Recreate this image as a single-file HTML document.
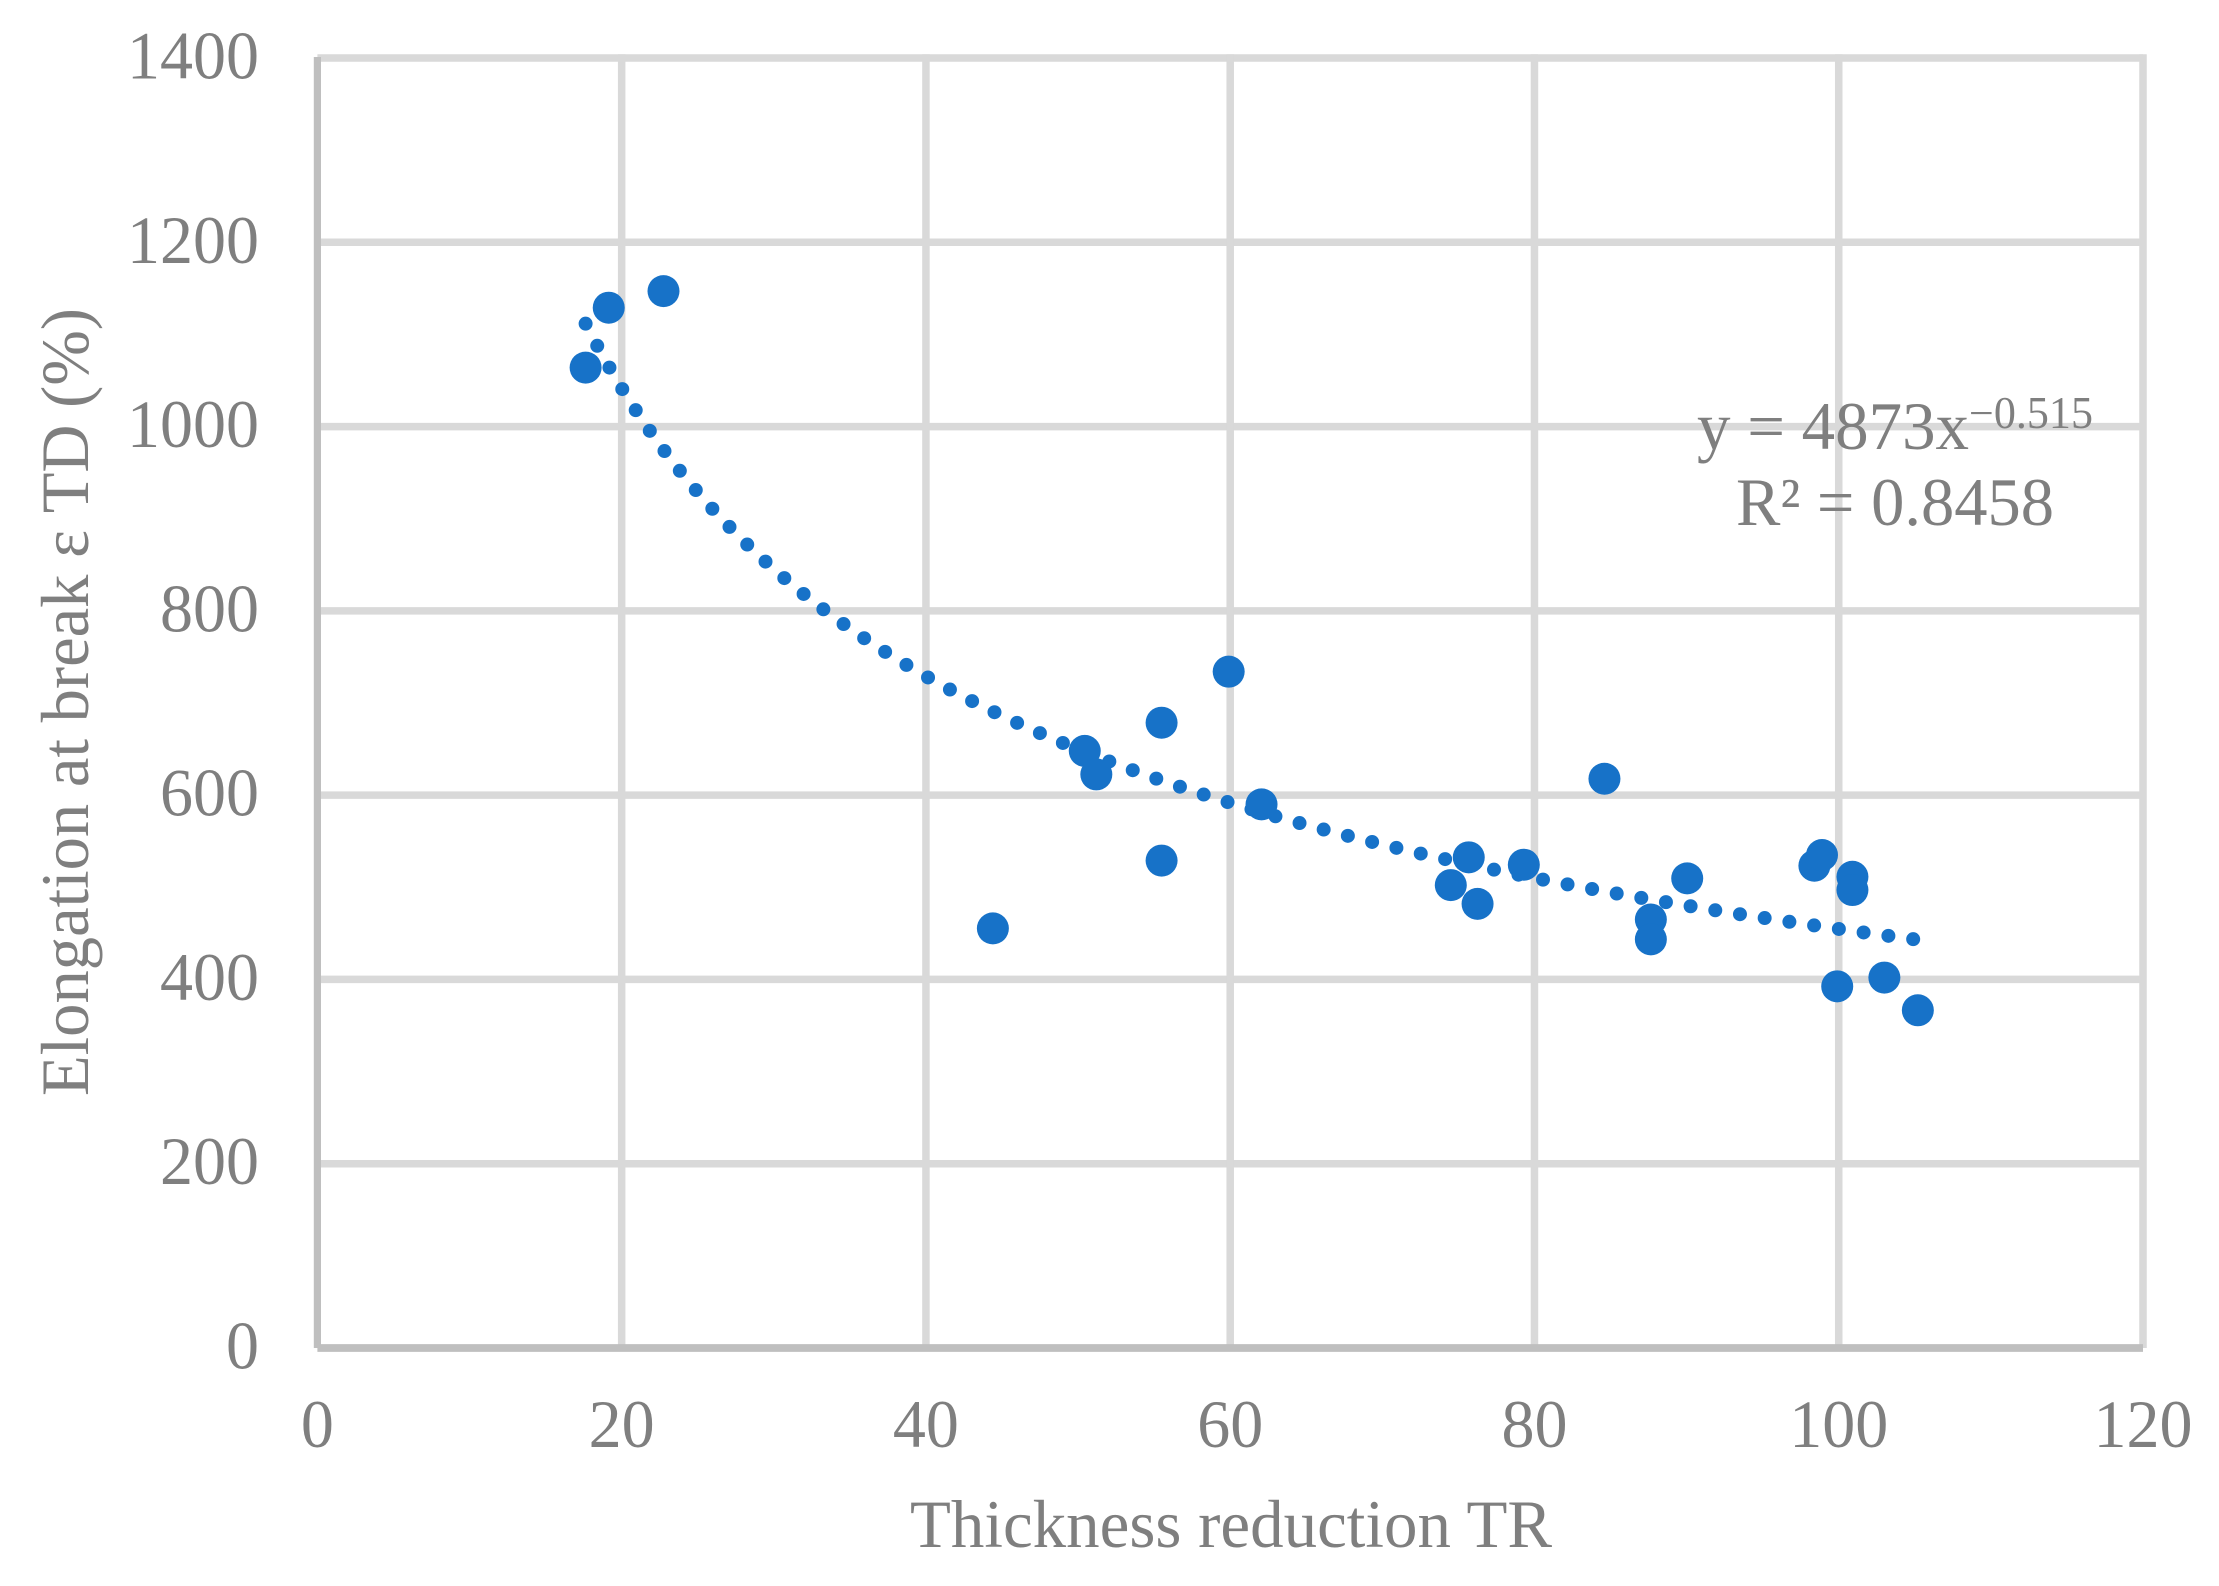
<!DOCTYPE html>
<html lang="en">
<head>
<meta charset="utf-8">
<title>Elongation at break vs thickness reduction</title>
<style>
html,body{margin:0;padding:0;background:#fff;width:2219px;height:1586px;overflow:hidden}
svg{display:block}
text{font-family:"Liberation Serif",serif;fill:#7f7f7f}
</style>
</head>
<body>
<svg id="chart" xmlns="http://www.w3.org/2000/svg" width="2219" height="1586" viewBox="0 0 2219 1586">
  <g id="grid"></g>
  <g id="trend"></g>
  <g id="points"></g>
  <g id="axes"></g>
  <g id="xlabels"></g>
  <g id="ylabels"></g>
  <text x="1231" y="1547" font-size="68" text-anchor="middle" textLength="642" lengthAdjust="spacingAndGlyphs">Thickness reduction TR</text>
  <text transform="translate(88 702) rotate(-90)" x="0" y="0" font-size="68" text-anchor="middle" textLength="788" lengthAdjust="spacingAndGlyphs">Elongation at break ε TD (%)</text>
  <g>
    <text x="1697" y="449" font-size="68" textLength="272" lengthAdjust="spacingAndGlyphs">y = 4873x</text>
    <text x="1969" y="428" font-size="45" textLength="124" lengthAdjust="spacingAndGlyphs">−0.515</text>
    <text x="1736" y="525" font-size="68" textLength="318" lengthAdjust="spacingAndGlyphs">R² = 0.8458</text>
  </g>
</svg>
<script>
const xTicks = [0, 20, 40, 60, 80, 100, 120];
const yTicks = [0, 200, 400, 600, 800, 1000, 1200, 1400];
const xValues = [17.63, 19.15, 22.75, 44.4, 50.44, 51.2, 55.49, 55.49, 59.9, 62.06, 74.5, 75.68, 76.26, 79.3, 84.6, 87.65, 87.65, 90.04, 98.4, 98.9, 99.9, 100.9, 100.9, 103.0, 105.2];
const yValues = [1064, 1129, 1147, 455.4, 648, 622.5, 678.6, 529, 734, 590, 502.4, 532.5, 482, 524.5, 617.8, 465, 443.5, 509.7, 523.4, 535, 392.5, 511.4, 497, 402, 366.5];
const trendCoefficient = 4873;
const trendExponent = -0.515;

const NS = 'http://www.w3.org/2000/svg';
const plotLeft = 317.4, plotRight = 2143, plotTop = 58, plotBottom = 1348;
const xMax = xTicks[xTicks.length - 1], yMax = yTicks[yTicks.length - 1];
function sx(v){ return plotLeft + (v / xMax) * (plotRight - plotLeft); }
function sy(v){ return plotBottom - (v / yMax) * (plotBottom - plotTop); }
function make(tag, parent){ const el = document.createElementNS(NS, tag); parent.appendChild(el); return el; }
function setLine(el, x1, y1, x2, y2, color, w){
  el.setAttribute('x1', x1); el.setAttribute('y1', y1);
  el.setAttribute('x2', x2); el.setAttribute('y2', y2);
  el.setAttribute('stroke', color); el.setAttribute('stroke-width', w);
}
const grid = document.getElementById('grid');
const axes = document.getElementById('axes');
const xlabels = document.getElementById('xlabels');
const ylabels = document.getElementById('ylabels');
const trend = document.getElementById('trend');
const points = document.getElementById('points');

yTicks.forEach(function(t){
  if (t !== 0) {
    const line = make('line', grid);
    
    
    setLine(line, plotLeft, sy(t), plotRight, sy(t), '#d9d9d9', 7.5);
  }
  const label = make('text', ylabels);
  
  
  label.setAttribute('x', 259);
  label.setAttribute('y', sy(t) + 20.5);
  label.setAttribute('font-size', '68');
  label.setAttribute('text-anchor', 'end');
  label.setAttribute('textLength', String(t).length * 33);
  label.setAttribute('lengthAdjust', 'spacingAndGlyphs');
  label.textContent = t;
});
xTicks.forEach(function(t){
  if (t !== 0) {
    const line = make('line', grid);
    
    
    setLine(line, sx(t), plotTop - 3.7, sx(t), plotBottom, '#d9d9d9', 7.5);
  }
  const label = make('text', xlabels);
  
  
  label.setAttribute('x', sx(t));
  label.setAttribute('y', 1447);
  label.setAttribute('font-size', '68');
  label.setAttribute('text-anchor', 'middle');
  label.setAttribute('textLength', String(t).length * 33);
  label.setAttribute('lengthAdjust', 'spacingAndGlyphs');
  label.textContent = t;
});

const yAxis = make('line', axes);


setLine(yAxis, plotLeft, plotTop - 1, plotLeft, plotBottom, '#bfbfbf', 7.2);
const xAxis = make('line', axes);


setLine(xAxis, plotLeft, plotBottom, plotRight, plotBottom, '#bfbfbf', 7.8);

const trendStart = Math.min.apply(null, xValues);
const trendEnd = Math.max.apply(null, xValues);
let d = '';
for (let i = 0; i <= 400; i++) {
  const xv = trendStart + (trendEnd - trendStart) * i / 400;
  d += (i ? 'L' : 'M') + sx(xv).toFixed(2) + ' ' + sy(trendCoefficient * Math.pow(xv, trendExponent)).toFixed(2);
}
const trendPath = make('path', trend);


trendPath.setAttribute('d', d);
trendPath.setAttribute('fill', 'none');
trendPath.setAttribute('stroke', '#1772c8');
trendPath.setAttribute('stroke-width', '14');
trendPath.setAttribute('stroke-linecap', 'round');
trendPath.setAttribute('stroke-dasharray', '0 25');

xValues.forEach(function(xv, i){
  const c = make('circle', points);
  
  
  c.setAttribute('cx', sx(xv));
  c.setAttribute('cy', sy(yValues[i]));
  c.setAttribute('r', '16');
  c.setAttribute('fill', '#1772c8');
});
</script>
</body>
</html>
